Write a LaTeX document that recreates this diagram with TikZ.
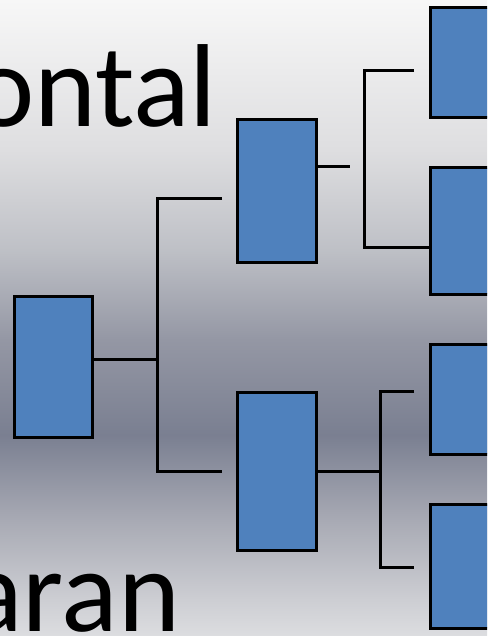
\documentclass[tikz,border=0pt]{standalone}
\usepackage{fontspec}
\newfontfamily\bigfont{Carlito}
\definecolor{boxblue}{RGB}{79,129,189}
\definecolor{bgA}{RGB}{220,221,224}
\definecolor{bgB}{RGB}{205,206,211}
\definecolor{bgC}{RGB}{168,170,180}
\definecolor{bgD}{RGB}{122,127,145}
\definecolor{bgE}{RGB}{148,151,164}
\definecolor{bgF}{RGB}{190,192,198}
\definecolor{bgG}{RGB}{222,222,224}
\definecolor{bgH}{RGB}{247,247,247}
\pgfdeclareverticalshading{bgshade}{100bp}{%
  color(0bp)=(bgA);
  color(25bp)=(bgA);
  color(27.83bp)=(bgB);
  color(34.12bp)=(bgC);
  color(40.80bp)=(bgD);
  color(48.27bp)=(bgE);
  color(55.35bp)=(bgF);
  color(63.21bp)=(bgG);
  color(75bp)=(bgH);
  color(100bp)=(bgH)}
\tikzset{
  blockbox/.style={draw=black, line width=3pt, fill=boxblue, inner sep=0pt, outer sep=0pt},
  link/.style={draw=black, line width=3pt, line cap=butt, line join=miter},
  bigtext/.style={font=\bigfont\fontsize{118}{118}\selectfont, text=black, inner sep=0pt, outer sep=0pt}
}
\begin{document}
\begin{tikzpicture}[x=1pt,y=-1pt]
\useasboundingbox (0,0) rectangle (487,636);
\clip (0,0) rectangle (487,636);
\shade[shading=bgshade] (0,0) rectangle (487,636);
% texts
\node[bigtext, anchor=base east] (t1) at (217,127) {ontal};
\node[bigtext, anchor=base east] (t2) at (180,631) {aran};
% boxes
\node[blockbox, minimum width=78pt, minimum height=141pt] (L) at (53,366.5) {};
\node[blockbox, minimum width=79pt, minimum height=142pt] (M1) at (276.5,191) {};
\node[blockbox, minimum width=79pt, minimum height=158pt] (M2) at (276.5,471) {};
\node[blockbox, minimum width=80pt, minimum height=110pt] (R1) at (470,63) {};
\node[blockbox, minimum width=80pt, minimum height=126pt] (R2) at (470,231) {};
\node[blockbox, minimum width=80pt, minimum height=110pt] (R3) at (470,399) {};
\node[blockbox, minimum width=80pt, minimum height=124pt] (R4) at (470,566) {};
% junction coordinates
\coordinate (j0) at (157,359);
\coordinate (a1) at (222,199);
\coordinate (a2) at (222,471);
\coordinate (m1e) at (350,167);
\coordinate (b1) at (414,71);
\coordinate (b2) at (364,247);
\coordinate (c0) at (380,471);
\coordinate (c1) at (414,391);
\coordinate (c2) at (414,567);
% connectors
\draw[link] (L.east |- j0) -- (j0);
\draw[link] (a1) -- (j0 |- a1) -- (j0 |- a2) -- (a2);
\draw[link] (M1.east |- m1e) -- (m1e);
\draw[link] (b1) -- (b2 |- b1) -- (b2) -- (R2.west |- b2);
\draw[link] (M2.east |- c0) -- (c0);
\draw[link] (c1) -- (c0 |- c1) -- (c0 |- c2) -- (c2);
\end{tikzpicture}
\end{document}
